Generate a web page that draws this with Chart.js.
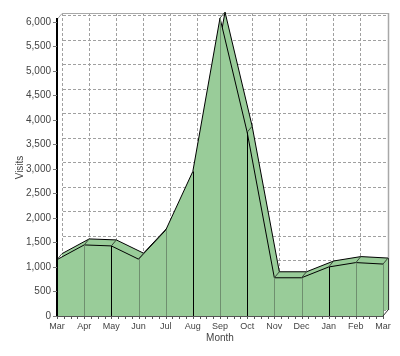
<!DOCTYPE html>
<html><head><meta charset="utf-8">
<script src="https://cdn.jsdelivr.net/npm/chart.js@4.4.1/dist/chart.umd.min.js"></script>
<style>html,body{margin:0;padding:0;background:#fff;}canvas{display:block;}</style>
</head><body>
<canvas id="c" width="400" height="356"></canvas>
<script>
const months = ['Mar','Apr','May','Jun','Jul','Aug','Sep','Oct','Nov','Dec','Jan','Feb','Mar'];
const visits = [1150,1450,1430,1160,1750,2950,6080,3750,780,780,1000,1090,1060];
const yTickValues = [0,500,1000,1500,2000,2500,3000,3500,4000,4500,5000,5500,6000];
const yAxisMax = 6060;

const DX = 5, DY = -6;
const fillGreen = 'rgb(153,204,153)';
const gg = '#6f8f6f';
const edgeColors = ['#000',gg,'#000',gg,gg,'#000',gg,'#000',gg,gg,'#000',gg,gg];
const textCol = '#444';
const FONT = 'Liberation Sans';

function frontEdgeY(pts, x) {
  for (let i = 0; i < pts.length - 1; i++) {
    const a = pts[i], b = pts[i + 1];
    if (x >= a.x && x <= b.x) return a.y + (b.y - a.y) * (x - a.x) / (b.x - a.x);
  }
  return null;
}

const depthPlugin = {
  id: 'depth3d',
  beforeDraw(chart) {
    ['x','y'].forEach(k => {
      const s = chart.scales[k];
      if (s && !s._g3d) {
        const orig = s.drawGrid;
        s.drawGrid = function(area) {
          const c = this.ctx; c.save(); c.translate(DX, DY); orig.call(this, area); c.restore();
        };
        s._g3d = true;
      }
    });
  },
  beforeDatasetsDraw(chart) {
    const {ctx, chartArea: a} = chart;
    ctx.save();
    ctx.strokeStyle = '#a8a8a8'; ctx.lineWidth = 1;
    ctx.beginPath();
    ctx.moveTo(a.left, a.top + 0.5);
    ctx.lineTo(a.left + DX, a.top + DY + 0.5);
    ctx.lineTo(a.right + DX + 0.5, a.top + DY + 0.5);
    ctx.stroke();
    ctx.lineWidth = 1.5;
    ctx.beginPath();
    ctx.moveTo(a.right + DX + 0.5, a.top + DY);
    ctx.lineTo(a.right + DX + 0.5, a.bottom + DY);
    ctx.stroke();
    ctx.restore();
  },
  beforeDatasetDraw(chart, args) {
    if (args.index === 1) { chart.ctx.save(); chart.ctx.translate(DX, DY); }
  },
  afterDatasetDraw(chart, args) {
    const ctx = chart.ctx;
    const base = chart.scales.y.getPixelForValue(0);
    const pts = args.meta.data;
    if (args.index === 1) {
      const last = pts[pts.length - 1];
      ctx.strokeStyle = '#333'; ctx.lineWidth = 1;
      ctx.beginPath(); ctx.moveTo(Math.round(last.x) + 0.5, last.y); ctx.lineTo(Math.round(last.x) + 0.5, base); ctx.stroke();
      ctx.restore();
    } else if (args.index === 0) {
      ctx.save();
      ctx.lineWidth = 1;
      pts.forEach((p, i) => {
        const fy = frontEdgeY(pts, p.x + DX);
        if (fy === null || p.y + DY < fy + 0.5) {
          ctx.strokeStyle = '#3a4a3a';
          ctx.beginPath(); ctx.moveTo(p.x, p.y); ctx.lineTo(p.x + DX, p.y + DY); ctx.stroke();
        }
        ctx.strokeStyle = edgeColors[i];
        const xx = Math.round(p.x) + 0.5;
        ctx.beginPath(); ctx.moveTo(xx, p.y); ctx.lineTo(xx, base); ctx.stroke();
      });
      const last = pts[pts.length - 1];
      ctx.strokeStyle = '#333';
      ctx.beginPath(); ctx.moveTo(last.x, base); ctx.lineTo(last.x + DX, base + DY); ctx.stroke();
      ctx.restore();
    }
  },
  afterDraw(chart) {
    const {ctx, chartArea: a} = chart;
    const ys = chart.scales.y, xs = chart.scales.x;
    ctx.save();
    ctx.lineWidth = 1;
    ctx.strokeStyle = '#777';
    ys.ticks.forEach(t => {
      const py = Math.round(ys.getPixelForValue(t.value)) + 0.5;
      ctx.beginPath(); ctx.moveTo(a.left - 4, py); ctx.lineTo(a.left, py); ctx.stroke();
    });
    ctx.strokeStyle = '#555';
    for (let i = 0; i < months.length; i++) {
      const x0 = xs.getPixelForValue(i);
      const sub = i < months.length - 1 ? 4 : 1;
      const step = i < months.length - 1 ? (xs.getPixelForValue(i + 1) - x0) / 4 : 0;
      for (let k = 0; k < sub; k++) {
        const px = Math.round(x0 + k * step) + 0.5;
        ctx.beginPath(); ctx.moveTo(px, a.bottom); ctx.lineTo(px, a.bottom + 3); ctx.stroke();
      }
    }
    ctx.restore();
  }
};

const fillerPlugin = Chart.registry.plugins.get('filler');
Chart.unregister(fillerPlugin);
Chart.register(depthPlugin);
Chart.register(fillerPlugin);

new Chart(document.getElementById('c'), {
  type: 'line',
  data: {
    labels: months,
    datasets: [
      { label: 'Visits', data: visits, fill: 'origin', backgroundColor: fillGreen, borderColor: '#000', borderWidth: 1, pointRadius: 0, tension: 0, clip: false, order: 0 },
      { label: 'depth', data: visits, fill: 'origin', backgroundColor: fillGreen, borderColor: '#000', borderWidth: 1, pointRadius: 0, tension: 0, clip: false, order: 1 }
    ]
  },
  options: {
    responsive: false,
    animation: false,
    events: [],
    locale: 'en-US',
    layout: { padding: { top: 19, right: 17, left: 0, bottom: 0 } },
    plugins: { legend: { display: false }, tooltip: { enabled: false }, filler: { propagate: false } },
    scales: {
      x: {
        offset: false,
        grid: { color: '#a0a0a0', lineWidth: 1, drawTicks: false },
        border: { display: true, color: '#555', width: 1, dash: [3, 2], z: 1 },
        ticks: { autoSkip: false, maxRotation: 0, padding: 5, color: textCol, font: { family: FONT, size: 9 } },
        title: { display: true, text: 'Month', color: textCol, font: { family: FONT, size: 10 }, padding: { top: 0, bottom: 12 } },
        afterFit: s => { s.height = 40; }
      },
      y: {
        min: 0, max: yAxisMax,
        afterBuildTicks: s => { s.ticks = yTickValues.map(v => ({ value: v })); },
        grid: { color: '#a0a0a0', lineWidth: 1, drawTicks: false },
        border: { display: true, color: '#000', width: 2, dash: [3, 2], z: 1 },
        ticks: { padding: 6, color: textCol, font: { family: FONT, size: 10 } },
        title: { display: true, text: 'Visits', color: textCol, font: { family: FONT, size: 10 }, padding: { top: 14, bottom: 0 } },
        afterFit: s => { s.width = 57; }
      }
    }
  }
});
</script>
</body></html>
